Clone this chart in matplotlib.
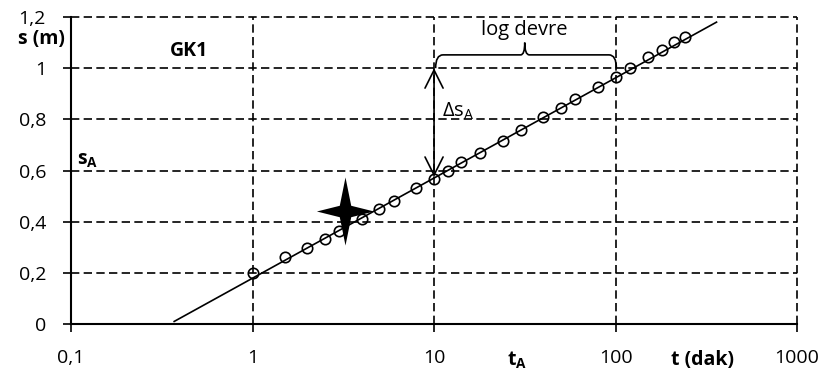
import numpy as np
import matplotlib.pyplot as plt
from matplotlib.path import Path
from matplotlib.patches import PathPatch
from matplotlib.ticker import FixedLocator, FixedFormatter, NullLocator

plt.rcParams['font.family'] = ['Open Sans', 'DejaVu Sans']
plt.rcParams['mathtext.fontset'] = 'custom'
plt.rcParams['mathtext.rm'] = 'Open Sans'
plt.rcParams['mathtext.bf'] = 'Open Sans:bold'
plt.rcParams['mathtext.it'] = 'Open Sans:italic'

# measured drawdown (GK1)
t = [1, 1.5, 2, 2.5, 3, 4, 5, 6, 8, 10, 12, 14, 18, 24, 30, 40, 50, 60, 80,
     100, 120, 150, 180, 210, 240]
s = [0.2, 0.263, 0.298, 0.333, 0.365, 0.41, 0.448, 0.482, 0.532, 0.565,
     0.599, 0.632, 0.67, 0.717, 0.758, 0.808, 0.846, 0.878, 0.925, 0.964,
     0.999, 1.042, 1.071, 1.104, 1.12]

# straight line fit
fit_t = [0.37, 360]
fit_s = [0.01, 1.18]

star_t, star_s = 3.25, 0.44

x_ticks = [0.1, 1, 10, 100, 1000]
x_labels = ['0,1', '1', '10', '100', '1000']
y_ticks = [0, 0.2, 0.4, 0.6, 0.8, 1.0, 1.2]
y_labels = ['0', '0,2', '0,4', '0,6', '0,8', '1', '1,2']

fig = plt.figure(figsize=(8.27, 3.79), dpi=100)
ax = fig.add_axes([0.0859, 0.1451, 0.8779, 0.81])

ax.set_xscale('log')
ax.set_xlim(0.1, 1000)
ax.set_ylim(0, 1.2)
ax.xaxis.set_major_locator(FixedLocator(x_ticks))
ax.xaxis.set_major_formatter(FixedFormatter(x_labels))
ax.xaxis.set_minor_locator(NullLocator())
ax.yaxis.set_major_locator(FixedLocator(y_ticks))
ax.yaxis.set_major_formatter(FixedFormatter(y_labels))

ax.grid(True, color='black', lw=1.2, ls=(0, (5, 2.6)))
ax.set_axisbelow(True)
for gl in ax.get_xgridlines() + ax.get_ygridlines():
    gl.set_clip_on(False)

ax.spines['top'].set_visible(False)
ax.spines['right'].set_visible(False)
ax.spines['left'].set_linewidth(1.5)
ax.spines['bottom'].set_linewidth(1.5)
ax.tick_params(direction='out', length=6, width=1.2, labelsize=14, pad=12)

ax.plot(fit_t, fit_s, color='black', lw=1.2, zorder=3)
ax.plot(t, s, 'o', mfc='none', mec='black', ms=7.5, mew=1.2, zorder=4)

# four pointed star
k = 0.2
h = 1.19
verts = [(0, h), (k, k), (1, 0), (k, -k), (0, -h), (-k, -k), (-1, 0), (-k, k), (0, h)]
codes = [Path.MOVETO] + [Path.LINETO] * 7 + [Path.CLOSEPOLY]
star = Path(verts, codes)
ax.plot(star_t, star_s, marker=star, ms=49, color='black', mec='black', mew=0,
        zorder=5)

# delta s arrow
ax.annotate('', xy=(10, 1.0), xytext=(10, 0.575),
            arrowprops=dict(arrowstyle='<->,head_length=1.3,head_width=0.65',
                            lw=1.2, color='black', shrinkA=0, shrinkB=0,
                            mutation_scale=10), zorder=6)
ax.text(11.1, 0.83, r'$\Delta\mathrm{s}_\mathrm{A}$', fontsize=14.5,
        ha='left', va='center')

# brace for one log cycle
bv = [(10.2, 1.0), (10.2, 1.052), (11.2, 1.052),
      (30.0, 1.052), (31.6, 1.052), (31.6, 1.1),
      (31.6, 1.052), (33.5, 1.052),
      (92, 1.052), (101, 1.052), (101, 1.0)]
bc = [Path.MOVETO, Path.CURVE3, Path.CURVE3,
      Path.LINETO, Path.CURVE3, Path.CURVE3,
      Path.CURVE3, Path.CURVE3,
      Path.LINETO, Path.CURVE3, Path.CURVE3]
ax.add_patch(PathPatch(Path(bv, bc), fill=False, lw=1.2, ec='black', zorder=6))
ax.text(31.6, 1.13, 'log devre', fontsize=14.5, ha='center', va='baseline')

ax.text(0.069, 1.114, 's (m)', fontsize=14, fontweight='bold',
        ha='center', va='center')
ax.text(0.444, 1.067, 'GK1', fontsize=14, fontweight='bold',
        ha='center', va='center')
ax.text(0.108, 0.625, r'$\mathbf{s}_\mathbf{A}$', fontsize=14,
        ha='left', va='baseline')
ax.text(28.7, -0.14, r'$\mathbf{t}_\mathbf{A}$', fontsize=14,
        ha='center', va='center')
ax.text(303, -0.14, 't (dak)', fontsize=14, fontweight='bold',
        ha='center', va='center')

fig.savefig('out.png', dpi=100)
